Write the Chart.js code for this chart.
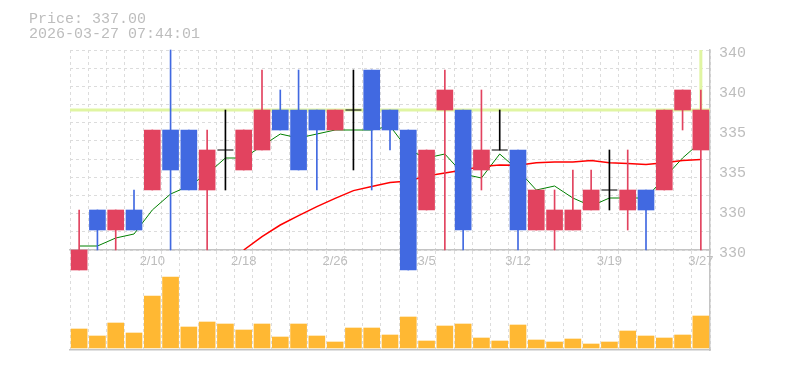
<!DOCTYPE html>
<html>
<head>
<meta charset="utf-8">
<script src="https://cdn.jsdelivr.net/npm/chart.js@4.4.1/dist/chart.umd.min.js"></script>
<style>
  html, body { margin: 0; padding: 0; background: #fff; }
  #wrap { position: relative; width: 785px; height: 370px; }
  #priceChart { position: absolute; left: 0; top: 0; z-index: 2; }
  #volChart { position: absolute; left: 0; top: 250px; z-index: 1; }
</style>
</head>
<body>
<div id="wrap">
  <canvas id="volChart" width="785" height="102"></canvas>
  <canvas id="priceChart" width="785" height="272"></canvas>
</div>
<script>
const dates = [
  "2/4", "2/5", "2/6", "2/9", "2/10", "2/12", "2/13", "2/16", "2/17",
  "2/18", "2/19", "2/20", "2/24", "2/25", "2/26", "2/27", "3/2", "3/3",
  "3/4", "3/5", "3/6", "3/9", "3/10", "3/11", "3/12", "3/13", "3/16",
  "3/17", "3/18", "3/19", "3/23", "3/24", "3/25", "3/26", "3/27",
];
const opens = [
  329, 332, 331, 332, 333, 336, 336, 333, 335, 334, 335, 337, 337, 337, 336, 337, 339, 337,
  336, 332, 337, 337, 334, 335, 335, 331, 331, 331, 332, 333, 332, 333, 333, 337, 335,
];
const highs = [
  332, 332, 332, 333, 336, 340, 336, 336, 337, 336, 339, 338, 339, 337, 337, 339, 339, 337,
  336, 335, 339, 337, 338, 337, 335, 333, 333, 334, 334, 335, 335, 333, 337, 338, 338,
];
const lows = [
  329, 330, 330, 331, 333, 330, 333, 330, 333, 334, 335, 336, 334, 333, 336, 334, 333, 335,
  329, 332, 330, 330, 333, 335, 330, 331, 330, 331, 332, 332, 331, 330, 333, 336, 330,
];
const closes = [
  330, 331, 332, 331, 336, 334, 333, 335, 335, 336, 337, 336, 334, 336, 337, 337, 336, 336,
  329, 335, 338, 331, 335, 335, 331, 333, 332, 332, 333, 333, 333, 332, 337, 338, 337,
];
const volumes = [
  19000, 12000, 25000, 15000, 52000, 71000, 21000, 26000, 24000, 18000, 24000, 11000,
  24000, 12000, 6000, 20000, 20000, 13000, 31000, 7000, 22000, 24000, 10000, 7000,
  23000, 8000, 6000, 9000, 4000, 6000, 17000, 12000, 10000, 13000, 32000,
];
// short (5 day) and long (25 day) moving averages
const ma5 = [
  330.2, 330.2, 330.6, 330.8, 332.0, 332.8, 333.2, 333.8, 334.6, 334.6, 335.2, 335.8,
  335.6, 335.8, 336.0, 336.0, 336.0, 336.2, 335.0, 334.6, 334.8, 333.8, 333.6, 334.8,
  334.0, 333.0, 333.2, 332.6, 332.2, 332.6, 332.6, 332.6, 333.6, 334.6, 335.4,
];
const ma25 = [
  null, null, null, null, null, null, null, null, null,
  330.0, 330.67, 331.25, 331.72, 332.17, 332.58, 332.97, 333.17, 333.37, 333.45,
  333.7, 333.85, 334.0, 334.18, 334.25, 334.24, 334.36, 334.4, 334.4, 334.48,
  334.36, 334.32, 334.28, 334.36, 334.48, 334.52,
];
const priceTicks = { min: 330, max: 340, step: 2 };
const lastPrice = 337;
const stamp = "2026-03-27 07:44:01";

const UP = "#e2435f";
const DOWN = "#4169e1";
const EVEN = "#000000";
const GRID = "#dcdcdc";
const AXIS = "#c4c4c4";
const TEXT = "#bdbdbd";
const MONO = "'Liberation Mono', 'DejaVu Sans Mono', monospace";
const SANS = "'Liberation Sans', Arial, sans-serif";

const last = dates.length - 1;
const candleColor = opens.map((o, i) => (closes[i] > o ? UP : closes[i] < o ? DOWN : EVEN));

const header = {
  id: "header",
  afterDraw(chart) {
    const ctx = chart.ctx;
    ctx.save();
    ctx.font = "15px " + MONO;
    ctx.fillStyle = TEXT;
    ctx.textBaseline = "alphabetic";
    ctx.fillText("Price: " + lastPrice.toFixed(2), 29, 23);
    ctx.fillText(stamp, 29, 38);
    ctx.restore();
  },
};

// current price marker: horizontal at the price, vertical up from the last candle
const priceLine = {
  id: "priceLine",
  beforeDatasetsDraw(chart) {
    const { ctx, chartArea: a, scales } = chart;
    const y = scales.y.getPixelForValue(lastPrice);
    const x = scales.x.getPixelForValue(last);
    ctx.save();
    ctx.strokeStyle = "#e0f5a2";
    ctx.lineWidth = 3;
    ctx.beginPath();
    ctx.moveTo(a.left, y);
    ctx.lineTo(a.right, y);
    ctx.moveTo(x, a.top);
    ctx.lineTo(x, y);
    ctx.stroke();
    ctx.restore();
  },
};

new Chart("priceChart", {
  type: "bar",
  data: {
    labels: dates,
    datasets: [
      {
        type: "line",
        data: opens.map((o, i) => (o === closes[i] ? closes[i] : null)),
        showLine: false,
        pointStyle: "line",
        pointRadius: 8,
        pointBorderColor: EVEN,
        pointBorderWidth: 1,
        order: 0,
      },
      {
        data: opens.map((o, i) => (o === closes[i] ? null : [o, closes[i]])),
        backgroundColor: candleColor,
        barThickness: 16,
        grouped: false,
        clip: false,
        order: 1,
      },
      {
        data: lows.map((l, i) => [l, highs[i]]),
        backgroundColor: candleColor,
        barThickness: 1,
        grouped: false,
        clip: false,
        order: 2,
      },
      {
        type: "line",
        data: ma25,
        borderColor: "#ff0000",
        borderWidth: 1.5,
        pointRadius: 0,
        order: 3,
      },
      {
        type: "line",
        data: ma5,
        borderColor: "#008000",
        borderWidth: 1,
        pointRadius: 0,
        order: 3,
      },
    ],
  },
  options: {
    responsive: false,
    animation: false,
    devicePixelRatio: 1,
    layout: { padding: { left: 70, top: 50, right: 0, bottom: 0 } },
    plugins: { legend: { display: false }, tooltip: { enabled: false } },
    scales: {
      x: {
        offset: true,
        grid: { offset: true, color: GRID, drawTicks: false },
        border: { color: AXIS, width: 1.5, dash: [3, 3] },
        ticks: {
          autoSkip: false,
          maxRotation: 0,
          padding: 4,
          color: TEXT,
          font: { family: SANS, size: 13 },
          callback: function (value, index) {
            return (last - index) % 5 === 0 ? this.getLabelForValue(value) : "";
          },
        },
        afterFit: (s) => { s.height = 22; },
      },
      y: {
        position: "right",
        min: priceTicks.min,
        max: priceTicks.max,
        grid: { display: false, drawTicks: false },
        border: { color: AXIS, width: 1.5 },
        ticks: {
          stepSize: priceTicks.step,
          padding: 9,
          labelOffset: 3,
          color: TEXT,
          font: { family: MONO, size: 15 },
          callback: (v) => Math.round(v / 5) * 5,
        },
        afterFit: (s) => { s.width = 75; },
      },
      g: {
        position: "left",
        min: 0,
        max: 11,
        grid: { color: GRID, drawTicks: false },
        border: { display: false, dash: [3, 3] },
        ticks: { display: false, stepSize: 1 },
        afterFit: (s) => { s.width = 0; },
      },
    },
  },
  plugins: [header, priceLine],
});

new Chart("volChart", {
  type: "bar",
  data: {
    labels: dates,
    datasets: [
      {
        data: volumes,
        backgroundColor: "#ffb833",
        barThickness: 16,
      },
    ],
  },
  options: {
    responsive: false,
    animation: false,
    devicePixelRatio: 1,
    layout: { padding: { left: 70, top: 1, right: 0, bottom: 2 } },
    plugins: { legend: { display: false }, tooltip: { enabled: false } },
    scales: {
      x: {
        offset: true,
        grid: { offset: true, color: GRID, drawTicks: false },
        border: { color: AXIS, width: 1.5, dash: [3, 3] },
        ticks: { display: false },
        afterFit: (s) => { s.height = 0; },
      },
      y: {
        position: "right",
        min: -2000,
        max: 97000,
        grid: { display: false, drawTicks: false },
        border: { color: AXIS, width: 1.5 },
        ticks: { display: false },
        afterFit: (s) => { s.width = 75; },
      },
    },
  },
});
</script>
</body>
</html>
